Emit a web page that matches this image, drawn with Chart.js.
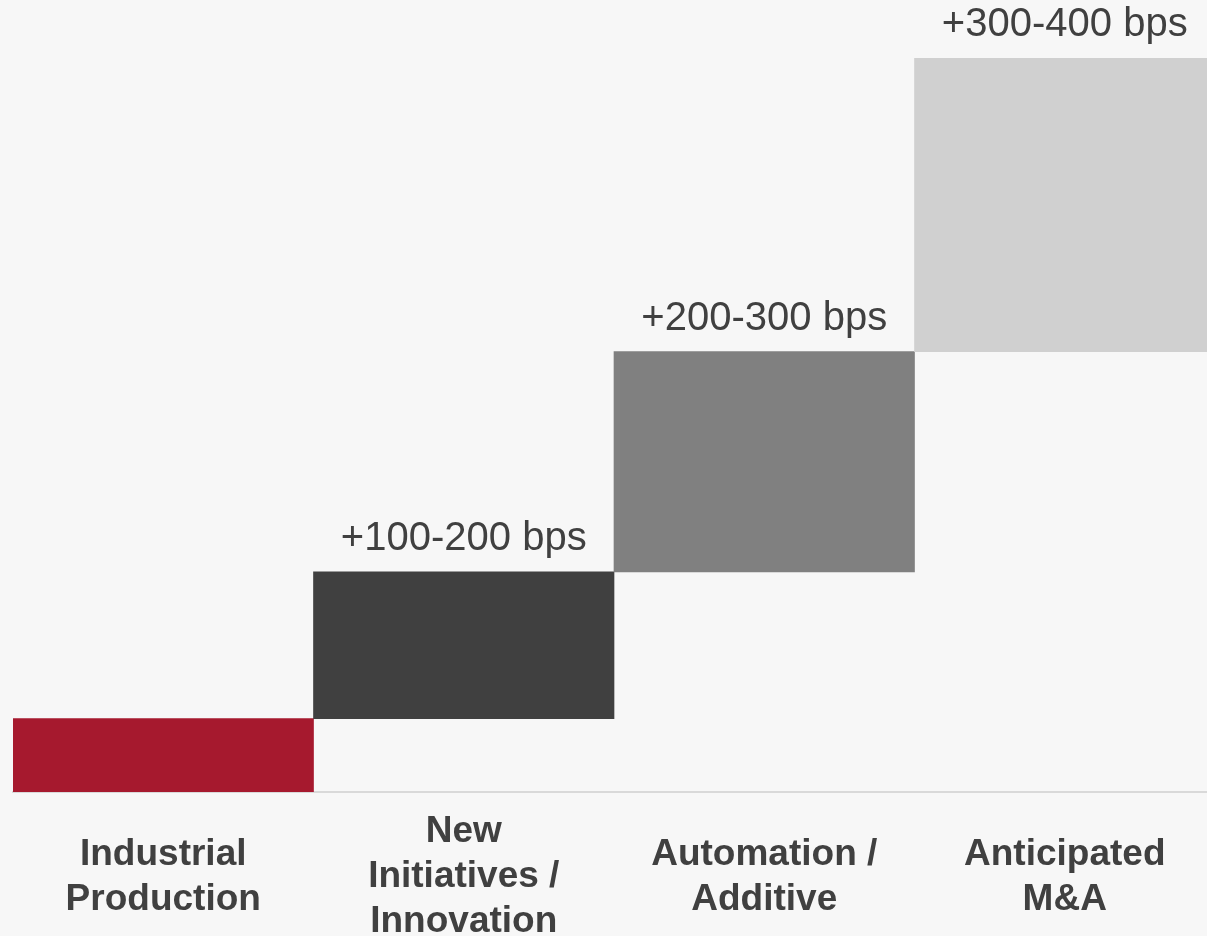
<!DOCTYPE html>
<html>
<head>
<meta charset="utf-8">
<script src="https://cdn.jsdelivr.net/npm/chart.js@4/dist/chart.umd.min.js"></script>
<style>
    html, body { margin: 0; padding: 0; background: #f7f7f7; overflow: hidden; }
    #wrap { width: 1216px; height: 936px; }
</style>
</head>
<body>
<div id="wrap"><canvas id="bpsChart"></canvas></div>
<script>
// Data chart
const categories = [
    ['Industrial', 'Production'],
    ['New', 'Initiatives /', 'Innovation'],
    ['Automation /', 'Additive'],
    ['Anticipated', 'M&A']
];
const barStart = [0, 1, 3, 6];
const barEnd = [1, 3, 6, 10];
const rangeLabels = ['', '+100-200 bps', '+200-300 bps', '+300-400 bps'];
const barColors = ['#a6192e', '#404040', '#808080', '#d0d0d0'];

const fontFamily = "'Liberation Sans', Arial, Helvetica, sans-serif";

// Label di atas batang
const rangeLabelPlugin = {
    id: 'rangeLabels',
    afterDatasetsDraw(chart) {
        const ctx = chart.ctx;
        const bars = chart.getDatasetMeta(0).data;
        ctx.save();
        ctx.font = '40px ' + fontFamily;
        ctx.fillStyle = '#404040';
        ctx.textAlign = 'center';
        ctx.textBaseline = 'alphabetic';
        bars.forEach((bar, i) => {
            if (!rangeLabels[i]) return;
            ctx.fillText(rangeLabels[i], bar.x, bar.y - 22);
        });
        ctx.restore();
    }
};

const ctx = document.getElementById('bpsChart').getContext('2d');
new Chart(ctx, {
    type: 'bar',
    data: {
        labels: categories,
        datasets: [{
            data: barStart.map((s, i) => [s, barEnd[i]]),
            backgroundColor: barColors,
            borderWidth: 0,
            barPercentage: 1,
            categoryPercentage: 1
        }]
    },
    options: {
        responsive: true,
        maintainAspectRatio: false,
        animation: false,
        layout: { padding: { top: 58, left: 13, right: 1, bottom: 0 } },
        plugins: {
            legend: { display: false },
            tooltip: { enabled: false }
        },
        scales: {
            x: {
                grid: { display: false, drawTicks: false },
                border: { display: true, color: '#d9d9d9', width: 2 },
                ticks: {
                    color: '#404040',
                    font: { family: fontFamily, size: 37, weight: 'bold', lineHeight: 45 / 37 },
                    padding: 40,
                    crossAlign: 'center',
                    maxRotation: 0,
                    autoSkip: false
                },
                afterFit(scale) { scale.height = 144; }
            },
            y: {
                display: false,
                min: 0,
                max: 10
            }
        }
    },
    plugins: [rangeLabelPlugin]
});
</script>
</body>
</html>
